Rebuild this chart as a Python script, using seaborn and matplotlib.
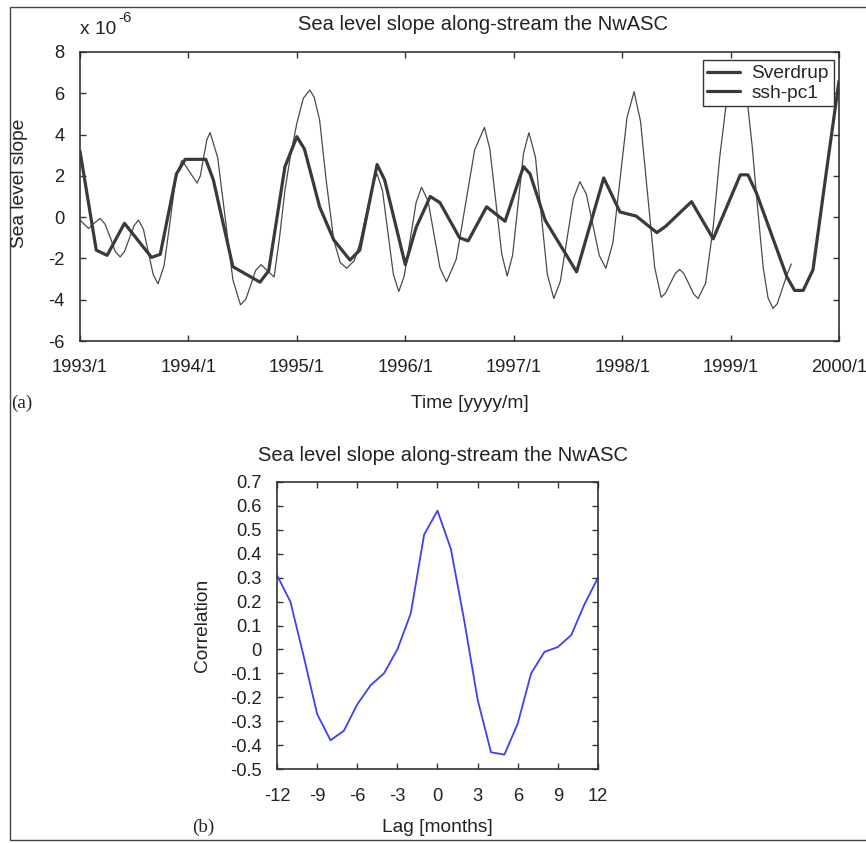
import matplotlib
matplotlib.use("Agg")
import matplotlib.pyplot as plt
import seaborn as sns
import pandas as pd
from matplotlib.patches import Rectangle

# ---------------- data ----------------
# Sverdrup sea level slope (x 1e-6), time in decimal years
sverdrup_time = [1993.00, 1993.15, 1993.25, 1993.41, 1993.66, 1993.74, 1993.89, 1993.97, 1994.16,
                 1994.23, 1994.41, 1994.66, 1994.74, 1994.89, 1995.00, 1995.07, 1995.21, 1995.34,
                 1995.49, 1995.58, 1995.74, 1995.81, 1996.00, 1996.10, 1996.23, 1996.32, 1996.50,
                 1996.58, 1996.75, 1996.92, 1997.09, 1997.15, 1997.29, 1997.40, 1997.58, 1997.83,
                 1997.98, 1998.13, 1998.32, 1998.40, 1998.64, 1998.84, 1999.09, 1999.16, 1999.24,
                 1999.52, 1999.59, 1999.67, 1999.76, 1999.89, 2000.00]
sverdrup_value = [3.2, -1.6, -1.85, -0.3, -1.95, -1.8, 2.1, 2.8, 2.8,
                  1.8, -2.4, -3.15, -2.6, 2.44, 3.9, 3.3, 0.5, -1.1,
                  -2.08, -1.6, 2.55, 1.8, -2.3, -0.5, 1.0, 0.7, -1.0,
                  -1.15, 0.5, -0.2, 2.45, 2.1, -0.15, -1.1, -2.65, 1.9,
                  0.25, 0.05, -0.75, -0.45, 0.75, -1.05, 2.05, 2.05, 1.15,
                  -2.9, -3.55, -3.55, -2.55, 2.45, 6.6]

# ssh-pc1 sea level slope (x 1e-6)
ssh_time = [1993.00, 1993.04, 1993.08, 1993.13, 1993.185, 1993.23, 1993.28, 1993.325, 1993.37,
            1993.41, 1993.455, 1993.50, 1993.54, 1993.585, 1993.63, 1993.675, 1993.72,
            1993.775, 1993.83, 1993.885, 1993.94, 1994.01, 1994.08, 1994.11, 1994.14, 1994.17,
            1994.20, 1994.27, 1994.34, 1994.41, 1994.48, 1994.53, 1994.575, 1994.62, 1994.67,
            1994.73, 1994.79, 1994.84, 1994.89, 1994.94, 1995.00, 1995.06, 1995.12, 1995.16,
            1995.21, 1995.27, 1995.34, 1995.40, 1995.46, 1995.53, 1995.58, 1995.65, 1995.70,
            1995.74, 1995.79, 1995.84, 1995.89, 1995.94, 1995.99, 1996.045, 1996.10, 1996.15,
            1996.21, 1996.265, 1996.32, 1996.38, 1996.47, 1996.555, 1996.64, 1996.73, 1996.78,
            1996.835, 1996.89, 1996.94, 1996.99, 1997.04, 1997.09, 1997.14, 1997.20, 1997.255,
            1997.31, 1997.37, 1997.43, 1997.49, 1997.55, 1997.61, 1997.67, 1997.73, 1997.79,
            1997.85, 1997.915, 1997.98, 1998.045, 1998.11, 1998.17, 1998.235, 1998.30, 1998.36,
            1998.40, 1998.445, 1998.49, 1998.53, 1998.57, 1998.615, 1998.66, 1998.70, 1998.77,
            1998.84, 1998.90, 1998.96, 1999.00, 1999.05, 1999.10, 1999.16, 1999.20, 1999.24,
            1999.30, 1999.345, 1999.39, 1999.43, 1999.475, 1999.52, 1999.56]
ssh_value = [-0.14, -0.35, -0.55, -0.3, -0.06, -0.33, -1.0, -1.66, -1.93,
             -1.67, -1.03, -0.40, -0.14, -0.59, -1.69, -2.78, -3.23,
             -2.36, -0.24, 1.95, 2.75, 2.2, 1.65, 2.0, 2.9, 3.75,
             4.1, 2.88, -0.08, -3.03, -4.25, -3.97, -3.28, -2.58, -2.3,
             -2.6, -2.9, -1.0, 1.3, 2.93, 4.55, 5.76, 6.16, 5.8,
             4.7, 1.8, -1.1, -2.2, -2.48, -2.1, -1.27, 0.4, 1.6,
             2.1, 1.27, -0.75, -2.77, -3.6, -2.86, -1.08, 0.71, 1.45,
             0.78, -0.84, -2.46, -3.13, -2.04, 0.61, 3.26, 4.35, 3.30,
             0.75, -1.80, -2.85, -1.84, 0.62, 3.08, 4.09, 2.92, 0.07,
             -2.77, -3.94, -3.11, -1.11, 0.89, 1.72, 1.11, -0.38, -1.87,
             -2.48, -1.23, 1.8, 4.83, 6.08, 4.63, 1.1, -2.43, -3.88,
             -3.68, -3.2, -2.73, -2.53, -2.74, -3.23, -3.73, -3.94, -3.2,
             -0.46, 2.9, 5.5, 6.5, 6.8, 6.5, 5.35, 3.4, 0.99,
             -2.4, -3.9, -4.42, -4.2, -3.5, -2.8, -2.27]

year_ticks = [1993, 1994, 1995, 1996, 1997, 1998, 1999, 2000]
year_labels = ["1993/1", "1994/1", "1995/1", "1996/1", "1997/1", "1998/1", "1999/1", "2000/1"]
slope_ticks = [-6, -4, -2, 0, 2, 4, 6, 8]

# lag correlation
lag_months = list(range(-12, 13))
correlation = [0.31, 0.20, -0.03, -0.27, -0.38, -0.34, -0.23, -0.15, -0.10, 0.00, 0.15, 0.48, 0.58,
               0.42, 0.12, -0.21, -0.43, -0.44, -0.31, -0.10, -0.01, 0.01, 0.06, 0.19, 0.30]
lag_ticks = [-12, -9, -6, -3, 0, 3, 6, 9, 12]
corr_ticks = [-0.5, -0.4, -0.3, -0.2, -0.1, 0, 0.1, 0.2, 0.3, 0.4, 0.5, 0.6, 0.7]
corr_labels = ["-0.5", "-0.4", "-0.3", "-0.2", "-0.1", "0", "0.1", "0.2", "0.3", "0.4", "0.5", "0.6", "0.7"]

# ---------------- style ----------------
sns.set_style("white")
plt.rcParams['font.family'] = ['Liberation Sans', 'DejaVu Sans']
TXT = '#222222'
SP = '#333333'
FS = 13.8
FTICK = 13.2
FT = 14.5

W, H = 866, 843
fig = plt.figure(figsize=(W / 100, H / 100), dpi=100)


def fx(px):
    return px / W


def fy(py):
    return 1 - py / H


def style_axes(ax, xpad, ypad):
    for s in ax.spines.values():
        s.set_visible(True)
        s.set_color(SP)
        s.set_linewidth(1.2)
    ax.tick_params(direction='in', length=4, width=1, colors=SP, labelcolor=TXT,
                   labelsize=FTICK, top=True, right=True, bottom=True, left=True)
    ax.tick_params(axis='x', pad=xpad)
    ax.tick_params(axis='y', pad=ypad)
    ax.set_xlabel('')
    ax.set_ylabel('')


# ---------------- panel (a) ----------------
ax1 = fig.add_axes([fx(80), fy(341), fx(839 - 80), (341 - 52) / H])
df_ssh = pd.DataFrame({'time': ssh_time, 'slope': ssh_value})
df_sv = pd.DataFrame({'time': sverdrup_time, 'slope': sverdrup_value})
sns.lineplot(data=df_sv, x='time', y='slope', ax=ax1, color='#3a3a3a', linewidth=2.3,
             estimator=None, sort=False, label='Sverdrup', zorder=3)
sns.lineplot(data=df_ssh, x='time', y='slope', ax=ax1, color='#4a4a4a', linewidth=0.9,
             estimator=None, sort=False, label='ssh-pc1', zorder=2)
ax1.set_xlim(1993, 2000)
ax1.set_ylim(-6, 8)
ax1.set_xticks(year_ticks)
ax1.set_xticklabels(year_labels)
ax1.set_yticks(slope_ticks)
ax1.set_yticklabels([str(v) for v in slope_ticks])
style_axes(ax1, 13, 11)
leg = ax1.legend(loc='upper right', bbox_to_anchor=(0.993, 0.972), borderaxespad=0,
                 frameon=True, fancybox=False, fontsize=FS, handlelength=1.7,
                 handletextpad=0.6, borderpad=0.25, labelspacing=0.1)
leg.get_frame().set_edgecolor(SP)
leg.get_frame().set_linewidth(1.0)
leg.get_frame().set_facecolor('white')
leg.get_frame().set_alpha(1)
for line in leg.get_lines():
    line.set_linewidth(2.3)
    line.set_color('#3a3a3a')

fig.text(fx(483), fy(25), 'Sea level slope along-stream the NwASC', ha='center', va='center',
         fontsize=FT, color=TXT)
fig.text(fx(80), fy(29), 'x 10', ha='left', va='center', fontsize=FS, color=TXT)
fig.text(fx(118), fy(18), '-6', ha='left', va='center', fontsize=11, color=TXT)
fig.text(fx(20), fy(183), 'Sea level slope', ha='center', va='center', rotation=90,
         fontsize=FS, color=TXT)
fig.text(fx(470), fy(403), 'Time [yyyy/m]', ha='center', va='center', fontsize=FS, color=TXT)
fig.text(fx(22), fy(403), '(a)', ha='center', va='center', fontsize=FS, color=TXT,
         family=['Liberation Serif', 'DejaVu Serif'])

# ---------------- panel (b) ----------------
ax2 = fig.add_axes([fx(277), fy(769), fx(598 - 277), (769 - 482) / H])
df_lag = pd.DataFrame({'lag': lag_months, 'corr': correlation})
sns.lineplot(data=df_lag, x='lag', y='corr', ax=ax2, color='#3f3ff2', linewidth=1.3,
             estimator=None, sort=False)
ax2.set_xlim(-12, 12)
ax2.set_ylim(-0.5, 0.7)
ax2.set_xticks(lag_ticks)
ax2.set_xticklabels([str(v) for v in lag_ticks])
ax2.set_yticks(corr_ticks)
ax2.set_yticklabels(corr_labels)
style_axes(ax2, 14, 11)

fig.text(fx(443), fy(455), 'Sea level slope along-stream the NwASC', ha='center', va='center',
         fontsize=FT, color=TXT)
fig.text(fx(203), fy(625), 'Correlation', ha='center', va='center', rotation=90,
         fontsize=FS, color=TXT)
fig.text(fx(437), fy(827), 'Lag [months]', ha='center', va='center', fontsize=FS, color=TXT)
fig.text(fx(203), fy(827), '(b)', ha='center', va='center', fontsize=FS, color=TXT,
         family=['Liberation Serif', 'DejaVu Serif'])

# outer frame
fig.patches.append(Rectangle((fx(10), fy(840)), fx(866 - 10) + 0.01, (840 - 7) / H,
                             transform=fig.transFigure, fill=False, edgecolor='#444444',
                             linewidth=1.0))

fig.savefig('out.png', dpi=100)
